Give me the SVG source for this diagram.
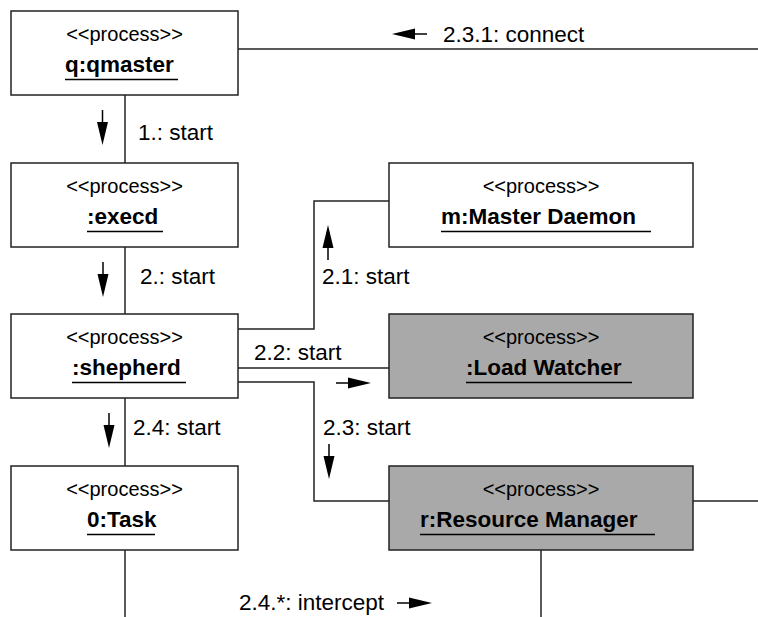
<svg xmlns="http://www.w3.org/2000/svg" xmlns:xlink="http://www.w3.org/1999/xlink" width="758" height="617" viewBox="0 0 758 617">
<style>
.box{fill:#ffffff;stroke:#222;stroke-width:1.5}
.grey{fill:#a9a9a9}
.st{font-family:"Liberation Sans",Arial,sans-serif;font-size:20px;fill:#000}
.nm{font-family:"Liberation Sans",Arial,sans-serif;font-size:22.5px;font-weight:bold;fill:#000}
.lb{font-family:"Liberation Sans",Arial,sans-serif;font-size:22.5px;fill:#000}
.ul{stroke:#000;stroke-width:1.3}
.cn{fill:none;stroke:#222;stroke-width:1.5}
</style>
<defs>
<g id="arr">
<line x1="0" y1="0" x2="13" y2="0" stroke="#000" stroke-width="1.5"/>
<polygon points="12,-5.5 35,0 12,5.5" fill="#000"/>
</g>
</defs>
<rect width="758" height="617" fill="#ffffff"/>
<g id="connectors">
<polyline class="cn" points="238,49 758,49"/>
<polyline class="cn" points="125,95 125,163"/>
<polyline class="cn" points="125,247 125,314"/>
<polyline class="cn" points="125,398 125,466"/>
<polyline class="cn" points="125,550 125,617"/>
<polyline class="cn" points="238,329 314,329 314,201 389,201"/>
<polyline class="cn" points="238,368 389,368"/>
<polyline class="cn" points="238,382 314,382 314,501 389,501"/>
<polyline class="cn" points="693,501 758,501"/>
<polyline class="cn" points="541,550 541,617"/>
<use xlink:href="#arr" href="#arr" transform="translate(427,34) rotate(180)"/>
<text class="lb" x="443" y="42">2.3.1: connect</text>
<use xlink:href="#arr" href="#arr" transform="translate(102.5,110) rotate(90)"/>
<text class="lb" x="138" y="140">1.: start</text>
<use xlink:href="#arr" href="#arr" transform="translate(103,262) rotate(90)"/>
<text class="lb" x="140" y="284">2.: start</text>
<use xlink:href="#arr" href="#arr" transform="translate(328,260) rotate(-90)"/>
<text class="lb" x="322" y="284">2.1: start</text>
<text class="lb" x="254" y="360">2.2: start</text>
<use xlink:href="#arr" href="#arr" transform="translate(336,383)"/>
<text class="lb" x="323" y="435">2.3: start</text>
<use xlink:href="#arr" href="#arr" transform="translate(329,444) rotate(90)"/>
<use xlink:href="#arr" href="#arr" transform="translate(109,413) rotate(90)"/>
<text class="lb" x="133" y="435">2.4: start</text>
<text class="lb" x="239" y="610">2.4.*: intercept</text>
<use xlink:href="#arr" href="#arr" transform="translate(397,603)"/>
</g>
<g id="qmaster">
<rect class="box" x="11" y="11" width="227" height="84"/>
<text class="st" x="124.5" y="41" text-anchor="middle">&lt;&lt;process&gt;&gt;</text>
<text class="nm" x="65" y="72">q:qmaster</text>
<line class="ul" x1="65" y1="79.5" x2="178" y2="79.5"/>
</g>
<g id="execd">
<rect class="box" x="11" y="163" width="227" height="84"/>
<text class="st" x="124.5" y="193" text-anchor="middle">&lt;&lt;process&gt;&gt;</text>
<text class="nm" x="87" y="224">:execd</text>
<line class="ul" x1="87" y1="231.5" x2="163" y2="231.5"/>
</g>
<g id="shepherd">
<rect class="box" x="11" y="314" width="227" height="84"/>
<text class="st" x="124.5" y="344" text-anchor="middle">&lt;&lt;process&gt;&gt;</text>
<text class="nm" x="72" y="375">:shepherd</text>
<line class="ul" x1="72" y1="382.5" x2="186" y2="382.5"/>
</g>
<g id="task">
<rect class="box" x="11" y="466" width="227" height="84"/>
<text class="st" x="124.5" y="496" text-anchor="middle">&lt;&lt;process&gt;&gt;</text>
<text class="nm" x="87" y="527">0:Task</text>
<line class="ul" x1="87" y1="534.5" x2="155" y2="534.5"/>
</g>
<g id="masterdaemon">
<rect class="box" x="389" y="163" width="304" height="84"/>
<text class="st" x="541" y="193" text-anchor="middle">&lt;&lt;process&gt;&gt;</text>
<text class="nm" x="441" y="224">m:Master Daemon</text>
<line class="ul" x1="441" y1="231.5" x2="651" y2="231.5"/>
</g>
<g id="loadwatcher">
<rect class="box grey" x="389" y="314" width="304" height="84"/>
<text class="st" x="541" y="344" text-anchor="middle">&lt;&lt;process&gt;&gt;</text>
<text class="nm" x="466" y="375">:Load Watcher</text>
<line class="ul" x1="466" y1="382.5" x2="632" y2="382.5"/>
</g>
<g id="resourcemanager">
<rect class="box grey" x="389" y="466" width="304" height="84"/>
<text class="st" x="541" y="496" text-anchor="middle">&lt;&lt;process&gt;&gt;</text>
<text class="nm" x="420" y="527">r:Resource Manager</text>
<line class="ul" x1="420" y1="534.5" x2="655" y2="534.5"/>
</g>
</svg>
